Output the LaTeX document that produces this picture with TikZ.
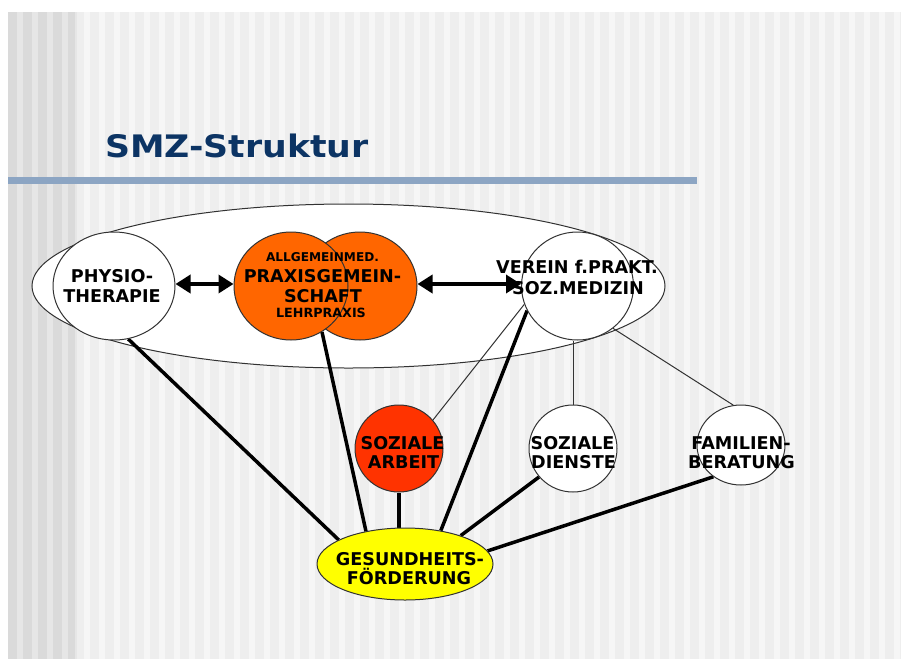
\documentclass[tikz,border=0pt]{standalone}
\usepackage{fontspec}
\setmainfont{DejaVu Sans}
\usetikzlibrary{shapes.geometric,arrows.meta}
\pgfdeclarelayer{bg}
\pgfdeclarelayer{edges}
\pgfsetlayers{bg,edges,main}
\definecolor{navy}{RGB}{12,52,100}
\definecolor{rulecol}{RGB}{140,165,195}
\definecolor{mainbg}{RGB}{238,238,238}
\definecolor{mainlight}{RGB}{246,246,246}
\definecolor{leftbg}{RGB}{218,218,218}
\definecolor{leftlight}{RGB}{230,230,230}
\definecolor{outl}{RGB}{50,50,50}
\definecolor{orng}{RGB}{255,102,0}
\definecolor{redd}{RGB}{255,51,0}
\definecolor{yell}{RGB}{255,255,0}
\tikzset{
  circ/.style={ellipse, draw=outl, line width=1pt, inner sep=0pt},
  lbl/.style={font=\bfseries\fontsize{17.6}{20}\selectfont, inner sep=0pt, anchor=base},
  small/.style={font=\bfseries\fontsize{12.1}{13}\selectfont, inner sep=0pt, anchor=base},
  thick line/.style={line width=3.5pt, black},
  thin line/.style={line width=1pt, outl},
  dblarrow/.style={line width=3.5pt, {Triangle[length=15pt,width=18pt]}-{Triangle[length=15pt,width=18pt]}}
}
\begin{document}
\begin{tikzpicture}[x=1pt,y=-1pt]
\useasboundingbox (0,0) rectangle (901,659);
\begin{pgfonlayer}{bg}
  % slide background with stripes
  \fill[mainbg] (8,12) rectangle (901,659);
  \fill[leftbg] (8,12) rectangle (75,659);
  \foreach \x in {8,23,...,68} {\fill[leftlight] ({\x+9},12) rectangle ({min(\x+15,75)},659);}
  \foreach \x in {75,90,...,890} {\fill[mainlight] ({\x+9},12) rectangle ({min(\x+15,901)},659);}
  % title and rule
  \node[anchor=base west, inner sep=0pt, text=navy, font=\bfseries\fontsize{31}{36}\selectfont] (title) at (105,157) {\scalebox{1.12}[1]{SMZ-Struktur}};
  \fill[rulecol] (8,177) rectangle (697,184);
  % big ellipse
  \node[circ, fill=white, minimum width=633pt, minimum height=164pt] (big) at (348.5,286) {};
\end{pgfonlayer}

% circles
\node[circ, fill=white, minimum width=122pt, minimum height=108pt] (phys) at (114,286) {};
\node[circ, fill=orng, minimum width=114pt, minimum height=108pt] (pr) at (360,286) {};
\node[circ, fill=orng, minimum width=114pt, minimum height=108pt] (pl) at (291,286) {};
\node[circ, fill=white, minimum width=112pt, minimum height=108pt] (ver) at (577.5,286) {};
\node[circ, fill=redd, minimum width=88pt, minimum height=87pt] (sa) at (399,448.5) {};
\node[circ, fill=white, minimum width=88pt, minimum height=87pt] (sd) at (573,448.5) {};
\node[circ, fill=white, minimum width=88pt, minimum height=80pt] (fam) at (741,445) {};
\node[circ, fill=yell, minimum width=176pt, minimum height=72pt] (ges) at (405,564) {};

% labels
\node[lbl] (physA) at (112,282) {PHYSIO-};
\node[lbl] (physB) at (112,302) {THERAPIE};
\node[small] (prA) at (322.5,261) {ALLGEMEINMED.};
\node[lbl] (prB) at (322.5,282) {PRAXISGEMEIN-};
\node[lbl] (prC) at (323,302.5) {SCHAFT};
\node[small, font=\bfseries\fontsize{12.7}{14}\selectfont] (prD) at (321,317.5) {LEHRPRAXIS};
\node[lbl] (verA) at (577,273) {VEREIN f.PRAKT.};
\node[lbl] (verB) at (578,294) {SOZ.MEDIZIN};
\node[lbl] (saA) at (402.5,449) {SOZIALE};
\node[lbl] (saB) at (403.5,468) {ARBEIT};
\node[lbl] (sdA) at (572.5,449) {SOZIALE};
\node[lbl] (sdB) at (573.5,468) {DIENSTE};
\node[lbl] (famA) at (741,449) {FAMILIEN-};
\node[lbl] (famB) at (741.5,468) {BERATUNG};
\node[lbl] (gesA) at (410,565.5) {GESUNDHEITS-};
\node[lbl] (gesB) at (409,584) {FÖRDERUNG};

% connectors
\begin{pgfonlayer}{edges}
  \draw[thick line] (phys.-75) -- (ges.160);
  \draw[thick line] (pl.-56) -- (ges.140);
  \draw[thick line] (sa.south) -- (ges.north -| sa.south);
  \draw[thick line] (ver.-154) -- (ges.43);
  \draw[thick line] (sd.-140) -- (ges.27);
  \draw[thick line] (fam.-131) -- (ges.9);
  \draw[thin line] (ver.-161) -- (sa.40);
  \draw[thin line] (sd.north) -- (sd.north |- ver.south);
  \draw[thin line] (ver.-50) -- (fam.101);
\end{pgfonlayer}

% double arrows
\draw[dblarrow] ([yshift=2pt]phys.east) -- ([yshift=2pt]pl.west);
\draw[dblarrow] ([yshift=2pt]pr.east) -- ([yshift=2pt]ver.west);
\end{tikzpicture}
\end{document}
